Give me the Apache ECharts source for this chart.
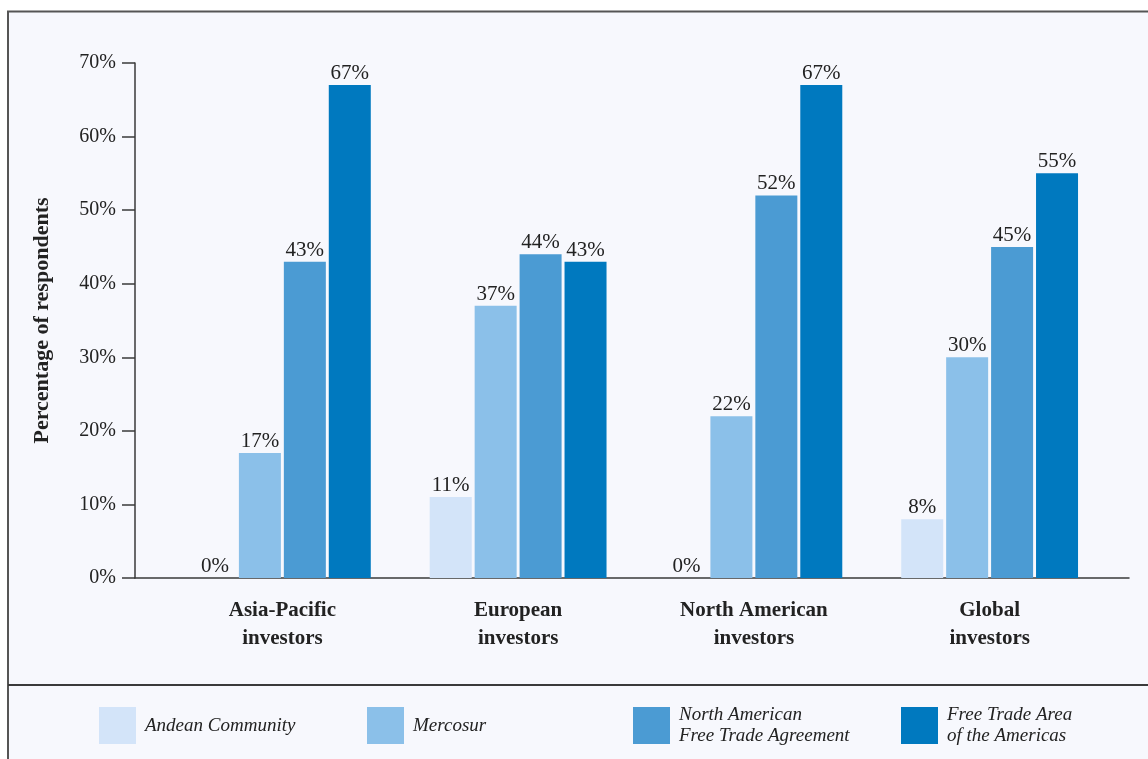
<!DOCTYPE html>
<html>
<head>
<meta charset="utf-8">
<style>
  html, body { margin: 0; padding: 0; background: #ffffff; }
  #chart { width: 1148px; height: 759px; }
</style>
<script src="https://cdn.jsdelivr.net/npm/echarts@6/dist/echarts.min.js"></script>
</head>
<body>
<div id="chart"></div>
<script>
// Investor groups and share of respondents (%) naming each trade agreement
const categories = ['Asia-Pacific\ninvestors', 'European\ninvestors', 'North American\ninvestors', 'Global\ninvestors'];
const andean = [0, 11, 0, 8];
const mercosur = [17, 37, 22, 30];
const nafta = [43, 44, 52, 45];
const ftaa = [67, 43, 67, 55];
const yTicks = [0, 10, 20, 30, 40, 50, 60, 70];

const seriesNames = ['Andean Community', 'Mercosur', 'North American Free Trade Agreement', 'Free Trade Area of the Americas'];
const legendText = {
  'Andean Community': 'Andean Community',
  'Mercosur': 'Mercosur',
  'North American Free Trade Agreement': 'North American\nFree Trade Agreement',
  'Free Trade Area of the Americas': 'Free Trade Area\nof the Americas'
};
const colors = ['#d3e4f9', '#8bc0e9', '#4b9bd3', '#0079bf'];
const seriesData = [andean, mercosur, nafta, ftaa];

const serif = '"Liberation Serif", "DejaVu Serif", serif';
const ink = '#222222';
const axisInk = '#3a3a3a';

const chart = echarts.init(document.getElementById('chart'), null, { renderer: 'canvas' });

// legend boxes sit in one row below the separator line
const legendX = [99, 367, 633, 901];
const legendTop = [707, 707, 704.5, 704.5];

const option = {
  backgroundColor: '#ffffff',
  animation: false,
  textStyle: { fontFamily: serif },
  graphic: [
    {
      type: 'rect', z: -10, silent: true,
      shape: { x: 8, y: 11.5, width: 1160, height: 780 },
      style: { fill: '#f7f8fd', stroke: '#555555', lineWidth: 2 }
    },
    {
      type: 'line', z: -9, silent: true,
      shape: { x1: 8, y1: 685, x2: 1148, y2: 685 },
      style: { stroke: '#3a3a3a', lineWidth: 2 }
    }
  ],
  grid: [
    { left: 164.5, width: 943, top: 63, bottom: 181 },
    { left: 135, right: 19, top: 63, bottom: 181 }
  ],
  xAxis: [
    {
      type: 'category', gridIndex: 0, data: categories,
      axisLine: { show: false }, axisTick: { show: false },
      axisLabel: {
        margin: 19, color: ink, fontFamily: serif, fontSize: 21,
        fontWeight: 'bold', lineHeight: 28, interval: 0
      }
    },
    {
      type: 'value', gridIndex: 1, min: 0, max: 1,
      axisLine: { show: true, lineStyle: { color: axisInk, width: 1.5 } },
      axisTick: { show: false }, axisLabel: { show: false }, splitLine: { show: false }
    }
  ],
  yAxis: [
    {
      type: 'value', gridIndex: 0, min: 0, max: 70, interval: 10,
      show: false
    },
    {
      type: 'value', gridIndex: 1, min: 0, max: 70, interval: 10,
      name: 'Percentage of respondents', nameLocation: 'middle', nameGap: 82,
      nameTextStyle: { color: ink, fontFamily: serif, fontSize: 22, fontWeight: 'bold' },
      axisLine: { show: true, lineStyle: { color: axisInk, width: 1.5 } },
      axisTick: { show: true, length: 13, lineStyle: { color: axisInk, width: 1.5 } },
      axisLabel: {
        margin: 19, color: ink, fontFamily: serif, fontSize: 20,
        formatter: v => yTicks.includes(v) ? v + '%' : ''
      },
      splitLine: { show: false }
    }
  ],
  legend: legendX.map((x, i) => ({
    data: [seriesNames[i]],
    left: x, top: legendTop[i], padding: 0,
    itemWidth: 37, itemHeight: 37, itemGap: 0,
    icon: 'rect',
    formatter: name => legendText[name],
    textStyle: {
      color: ink, fontFamily: serif, fontSize: 19, fontStyle: 'italic',
      lineHeight: 21, padding: [0, 0, 0, 4]
    },
    selectedMode: false
  })),
  series: seriesNames.map((name, i) => ({
    name,
    type: 'bar',
    xAxisIndex: 0, yAxisIndex: 0,
    data: seriesData[i],
    barWidth: 42,
    barGap: '7%',
    itemStyle: { color: colors[i] },
    label: {
      show: true, position: 'top', distance: 1,
      color: ink, fontFamily: serif, fontSize: 21,
      formatter: p => p.value + '%'
    }
  }))
};

chart.setOption(option);
</script>
</body>
</html>
